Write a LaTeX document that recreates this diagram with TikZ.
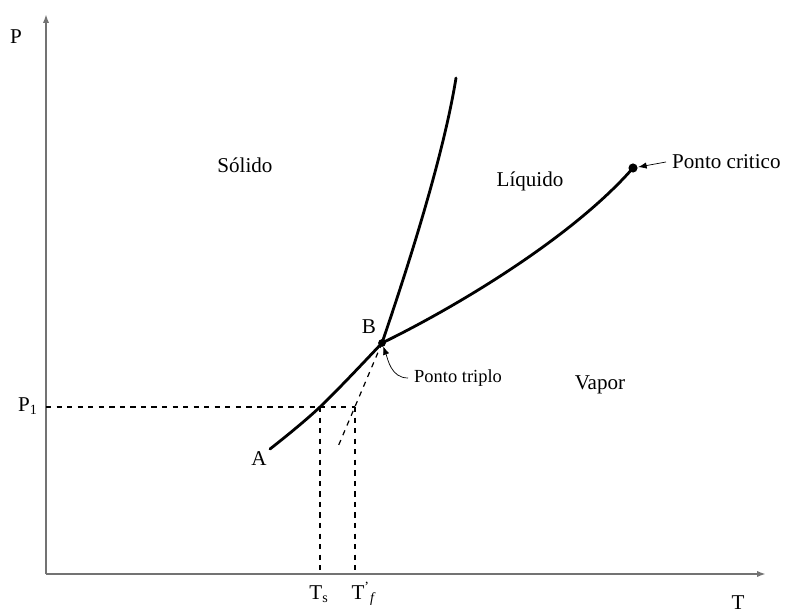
\documentclass[tikz,border=0pt]{standalone}
\usepackage{fontspec}
\setmainfont{Liberation Serif}
\usetikzlibrary{arrows.meta}

\begin{document}
\begin{tikzpicture}[x=0.02cm, y=-0.02cm, >=Latex,
  axis/.style={black!55, line width=1pt, -{Latex[length=5pt, width=3.5pt]}},
  curve/.style={line width=1.6pt, line cap=round},
  guide/.style={dashed, line width=0.7pt},
  lbl/.style={font=\fontsize{12}{14}\selectfont},
  note/.style={font=\fontsize{10.5}{12}\selectfont}]

  \useasboundingbox (0,0) rectangle (787,614);

  % --- Axes ---
  \coordinate (orig) at (46,574);
  \coordinate (ytop) at (46,14);
  \coordinate (xend) at (766,574);
  \draw[axis] (orig) -- (ytop);
  \draw[axis] (orig) -- (xend);
  \node[lbl] (labP) at (16,37) {P};
  \node[lbl] (labT) at (738,603) {T};

  % --- Key points ---
  \coordinate (A) at (270,449);
  \coordinate (B) at (382,343);
  \coordinate (crit) at (633,168);
  \coordinate (fusTop) at (456,78);
  \coordinate (subl) at (320,407);
  \coordinate (fus) at (355,407);
  \coordinate (p1) at (46,407);
  \coordinate (ext) at (337,449);

  % --- Phase boundaries ---
  \draw[curve] plot[smooth, tension=0.6] coordinates {(A) (subl) (B)};
  \draw[curve] (B) .. controls (400,290) and (442,165) .. (fusTop);
  \draw[curve] (B) .. controls (450,310) and (570,240) .. (crit);
  \fill (B) circle (2.2pt);
  \fill (crit) circle (2.6pt);

  % --- Dashed guides ---
  \draw[guide] (p1) -- (fus);
  \draw[guide] (subl) -- (subl |- orig);
  \draw[guide] (fus) -- (fus |- orig);
  \draw[guide] (B) -- (ext);

  % --- Labels ---
  \node[lbl] (labA) at (259,459) {A};
  \node[lbl] (labB) at (369,327) {B};
  \node[lbl] (labP1) at (28,406) {P\textsubscript{1}};
  \node[lbl] (labTs) at (319,594) {T\textsubscript{s}};
  \node[lbl] (labTf) at (364,594) {T\textsuperscript{'}\textsubscript{\textit{f}}};

  \node[lbl] (solido) at (245,165) {Sólido};
  \node[lbl] (liquido) at (530,181) {Líquido};
  \node[lbl] (vapor) at (600,385) {Vapor};

  % --- Critical and triple point notes ---
  \node[lbl, anchor=west] (critLbl) at (666,162) {Ponto critico};
  \draw[->, thin, shorten >=3pt] (critLbl.west) -- (crit);
  \node[note, anchor=west] (tripLbl) at (408,378) {Ponto triplo};
  \draw[->, thin, shorten >=2pt] (tripLbl.west) to[out=180, in=-70] (B);

\end{tikzpicture}
\end{document}
